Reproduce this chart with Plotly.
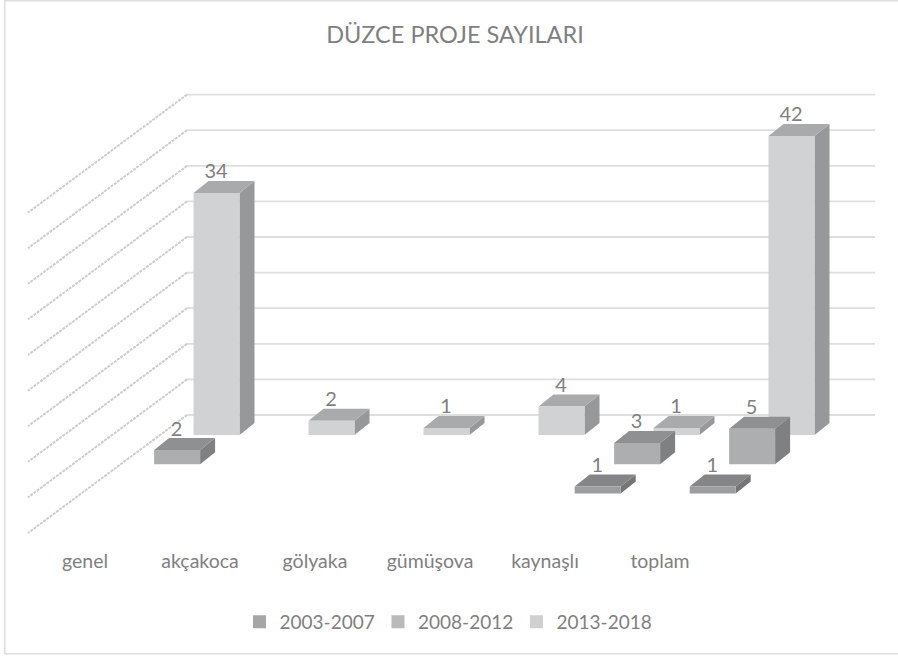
import plotly.graph_objects as go

TITLE = "DÜZCE PROJE SAYILARI"
categories = ["genel", "akçakoca", "gölyaka", "gümüşova", "kaynaşlı", "toplam"]
series_names = ["2003-2007", "2008-2012", "2013-2018"]
values_2003_2007 = [None, None, None, None, 1, 1]
values_2008_2012 = [2, None, None, None, 3, 5]
values_2013_2018 = [34, 2, 1, 4, 1, 42]
grid_values = [0, 5, 10, 15, 20, 25, 30, 35, 40, 45]

W, H = 898, 656
PLOT_BOTTOM = 545
PX_CAT, PX_VAL = 115.0, 7.12      # pixels per category / per value unit
X0_PX, Y0_PX = 85.0, 415.0        # pixel of category 0 label, value 0 on back wall
TEXT = "#7f7f7f"
FONT = "Lato, Carlito, Open Sans, sans-serif"


def cx(i, row):
    return i + (131.5 - 39.4 * row) / PX_CAT


def floor(row):
    return -(20.0 + 29.25 * row) / PX_VAL


HALF = 23.0 / PX_CAT
DX, DY = 15.0 / PX_CAT, 12.0 / PX_VAL

# row 0 = back series, row 2 = front series
rows = [
    (values_2013_2018, 0, "#d1d2d4", "#a9aaac", "#97989a"),
    (values_2008_2012, 1, "#adaeb0", "#8f9092", "#7f8082"),
    (values_2003_2007, 2, "#9c9d9f", "#848587", "#747577"),
]
legend_colors = {"2003-2007": "#a6a6a6", "2008-2012": "#bababa", "2013-2018": "#d0d0d0"}

fig = go.Figure()

for name in series_names:
    fig.add_trace(go.Scatter(
        x=[None], y=[None], mode="markers", name=name, showlegend=True,
        marker=dict(symbol="square", size=13, color=legend_colors[name]),
    ))

# side wall and back wall gridlines
WALL_X = (187 - X0_PX) / PX_CAT
WALL_END = (875 - X0_PX) / PX_CAT
SIDE_DX, SIDE_DY = -159.0 / PX_CAT, -118.0 / PX_VAL
bx, by, sx, sy = [], [], [], []
for v in grid_values:
    bx += [WALL_X, WALL_END, None]
    by += [v, v, None]
    sx += [WALL_X, WALL_X + SIDE_DX, None]
    sy += [v, v + SIDE_DY, None]
fig.add_trace(go.Scatter(x=bx, y=by, mode="lines", showlegend=False, hoverinfo="skip",
                         line=dict(color="#dedede", width=1.8)))
fig.add_trace(go.Scatter(x=sx, y=sy, mode="lines", showlegend=False, hoverinfo="skip",
                         line=dict(color="#cdcdcd", width=2, dash="3px,1px")))


def face(points, color):
    xs, ys = [], []
    for poly in points:
        xs += [p[0] for p in poly] + [poly[0][0], None]
        ys += [p[1] for p in poly] + [poly[0][1], None]
    fig.add_trace(go.Scatter(x=xs, y=ys, mode="lines", fill="toself", fillcolor=color,
                             line=dict(width=0, color=color), showlegend=False, hoverinfo="skip"))


for vals, row, front, top, side in rows:
    fronts, tops, sides = [], [], []
    lx, ly, lt = [], [], []
    for i, v in enumerate(vals):
        if v is None:
            continue
        c, b = cx(i, row), floor(row)
        l, r, t = c - HALF, c + HALF, b + v
        fronts.append([(l, b), (r, b), (r, t), (l, t)])
        tops.append([(l, t), (r, t), (r + DX, t + DY), (l + DX, t + DY)])
        sides.append([(r, b), (r + DX, b + DY), (r + DX, t + DY), (r, t)])
        lx.append(c - 0.5 / PX_CAT)
        ly.append(t + 19.5 / PX_VAL)
        lt.append(str(v))
    face(sides, side)
    face(tops, top)
    face(fronts, front)
    fig.add_trace(go.Scatter(x=lx, y=ly, text=lt, mode="text", textposition="middle center",
                             textfont=dict(family=FONT, size=20, color=TEXT),
                             showlegend=False, hoverinfo="skip"))


def px(x):
    return x / W


def py(y):
    return (PLOT_BOTTOM - y) / PLOT_BOTTOM


border = f"M {px(898)} {py(0.7)} L {px(4.7)} {py(0.7)} L {px(4.7)} {py(653.7)} L {px(898)} {py(653.7)}"

fig.update_layout(
    width=W, height=H,
    margin=dict(l=0, r=0, t=0, b=H - PLOT_BOTTOM, pad=0),
    paper_bgcolor="white", plot_bgcolor="white",
    title=dict(text=TITLE, x=455 / W, xanchor="center", y=1 - 35 / H, yanchor="middle",
               font=dict(family=FONT, size=23.5, color=TEXT)),
    font=dict(family=FONT, color=TEXT),
    xaxis=dict(range=[-X0_PX / PX_CAT, (W - X0_PX) / PX_CAT], tickmode="array",
               tickvals=list(range(len(categories))), ticktext=categories,
               showgrid=False, zeroline=False, showline=False, ticks="",
               ticklabelstandoff=2,
               tickfont=dict(family=FONT, size=19.5, color=TEXT), fixedrange=True),
    yaxis=dict(range=[(Y0_PX - PLOT_BOTTOM) / PX_VAL, Y0_PX / PX_VAL], visible=False,
               showgrid=False, zeroline=False, fixedrange=True),
    legend=dict(orientation="h", x=447.5 / W, xanchor="center", y=py(622),
                yanchor="middle", font=dict(family=FONT, size=19, color=TEXT),
                entrywidth=93.5, entrywidthmode="pixels",
                traceorder="normal", itemsizing="trace", bgcolor="rgba(0,0,0,0)"),
    shapes=[dict(type="path", xref="paper", yref="paper", path=border,
                 line=dict(color="#dedede", width=1.6), layer="below")],
    showlegend=True,
)

fig.write_html("out.html", config={"displayModeBar": False},
               post_script="document.body.style.margin='0';")
